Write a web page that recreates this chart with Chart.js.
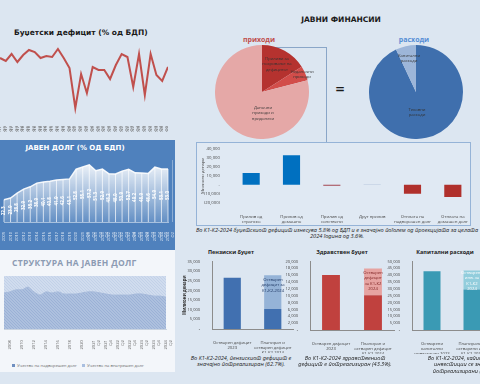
<!DOCTYPE html>
<html lang="mk">
<head>
<meta charset="utf-8">
<title>Јавни финансии</title>
<script src="https://cdn.jsdelivr.net/npm/chart.js@4.4.1/dist/chart.umd.min.js"></script>
<style>
  html, body { margin: 0; padding: 0; }
  body { width: 480px; height: 384px; overflow: hidden; position: relative; background: #dce6f1; font-family: "Open Sans", sans-serif; color: #222; }
  canvas, .txt, .box { position: absolute; }
  .txt { white-space: nowrap; line-height: 1.2; }
  .c { transform: translateX(-50%); text-align: center; }
  .cap { font-style: italic; font-size: 5.6px; color: #222; line-height: 1.25; }
  .lbl { font-size: 4.2px; color: #333; line-height: 1.25; }
  .sq { display: inline-block; width: 3px; height: 3px; margin-right: 2px; }
</style>
</head>
<body>

<!-- Буџетски дефицит -->
<div class="txt" style="left:14px;top:28px;font:bold 7.5px 'DejaVu Sans';color:#1a1a1a">Буџетски дефицит (% од БДП)</div>
<canvas id="deficitChart" width="168" height="88" style="left:0;top:44px"></canvas>

<!-- Јавен долг -->
<div class="box" style="left:0;top:140px;width:175px;height:110px;background:#4f81bd"></div>
<div class="box" style="left:0;top:160px;width:172px;height:62px;border-right:1px solid rgba(255,255,255,0.35)"></div>
<div class="txt c" style="left:75px;top:143.5px;font:bold 7px 'DejaVu Sans';color:#fff">ЈАВЕН ДОЛГ (% ОД БДП)</div>
<canvas id="debtChart" width="174" height="88" style="left:0;top:160px"></canvas>

<!-- Структура на јавен долг -->
<div class="box" style="left:0;top:250px;width:175px;height:122px;background:#f3f6fa"></div>
<div class="txt" style="left:12px;top:256.5px;font:bold 8.5px 'Open Sans';letter-spacing:0.3px;color:#8c9bb3">СТРУКТУРА НА ЈАВЕН ДОЛГ</div>
<canvas id="structChart" width="174" height="82" style="left:0;top:276px"></canvas>
<div class="txt lbl" style="left:12px;top:363px;color:#666"><span class="sq" style="background:#6f8fc0"></span>Учество на надворешен долг</div>
<div class="txt lbl" style="left:82px;top:363px;color:#666"><span class="sq" style="background:#a9bfe0"></span>Учество на внатрешен долг</div>

<!-- Јавни финансии -->
<div class="txt c" style="left:341px;top:14.5px;font:bold 7.5px 'DejaVu Sans';color:#1a1a1a">ЈАВНИ ФИНАНСИИ</div>
<div class="txt c" style="left:259px;top:34.5px;font:bold 7px 'Open Sans';color:#c0504d">приходи</div>
<div class="txt c" style="left:414px;top:34.5px;font:bold 7px 'Open Sans';color:#558ed5">расходи</div>
<div class="box" style="left:262px;top:47px;width:64px;height:95px;border-top:1px solid #8aa6c8;border-right:1px solid #8aa6c8"></div>
<canvas id="revenuePie" width="94" height="94" style="left:215px;top:45px"></canvas>
<canvas id="expensePie" width="94" height="94" style="left:369px;top:45px"></canvas>
<div class="txt c" style="left:340px;top:82px;font:bold 12px 'DejaVu Sans';color:#1a1a1a">=</div>
<div class="txt c lbl" style="left:277px;top:56px">Приливи за<br>покривање на<br>дефицитот</div>
<div class="txt c lbl" style="left:302px;top:69px">Неданочни<br>приходи</div>
<div class="txt c lbl" style="left:263px;top:105px">Даночни<br>приходи и<br>придонеси</div>
<div class="txt c lbl" style="left:409px;top:53px">Капитални<br>расходи</div>
<div class="txt c lbl" style="left:417px;top:107px">Тековни<br>расходи</div>

<!-- Финансирање -->
<div class="box" style="left:196px;top:142px;width:275px;height:84px;border:1px solid #95b3d7;box-sizing:border-box;background:#e0e9f3"></div>
<canvas id="financingChart" width="274" height="82" style="left:200px;top:143px"></canvas>
<div class="txt c cap" style="left:337px;top:226.5px;text-align:center">Во К1-К2-2024 буџетскиот дефицит изнесува 5.8% од БДП и е значајно поголем од проекцијата за целата<br>2024 година од 3.6%.</div>

<!-- Буџети -->
<div class="txt c" style="left:231px;top:247.5px;font:bold 5.5px 'Open Sans'">Пензиски буџет</div>
<div class="txt c" style="left:342px;top:247.5px;font:bold 5.5px 'Open Sans'">Здравствен буџет</div>
<div class="txt c" style="left:445px;top:247.5px;font:bold 5.5px 'Open Sans'">Капитални расходи</div>
<canvas id="pensionChart" width="112" height="98" style="left:182px;top:255px"></canvas>
<canvas id="healthChart" width="115" height="99" style="left:280px;top:255px"></canvas>
<canvas id="capitalChart" width="111" height="99" style="left:382px;top:255px"></canvas>
<div class="txt c lbl" style="left:273px;top:277px;color:#1f3864">Остварен<br>дефицит за<br>К1-К2-2024</div>
<div class="txt c lbl" style="left:373px;top:270px;color:#7b1f1f">Остварен<br>дефицит<br>за К1-К2<br>2024</div>
<div class="txt c lbl" style="left:472px;top:270px;color:#fff">Остварени<br>инв. за<br>К1-К2<br>2024</div>
<div class="txt c cap" style="left:241px;top:354.5px;text-align:center">Во К1-К2-2024, пензискиот дефицит е<br>значајно потреализиран (62.7%).</div>
<div class="txt c cap" style="left:345px;top:354.5px;text-align:center">Во К1-К2-2024 здравствениот<br>дефицит е потреализиран (43.3%).</div>
<div class="txt c cap" style="left:466px;top:354.5px;text-align:center">Во К1-К2-2024, капиталните<br>инвестиции се значајно<br>потреализирани (28.6%).</div>

<script>
// ---- податоци ----
const deficitLabels = [
  ["2017","Q1"],["2017","Q2"],["2017","Q3"],["2017","Q4"],
  ["2018","Q1"],["2018","Q2"],["2018","Q3"],["2018","Q4"],
  ["2019","Q1"],["2019","Q2"],["2019","Q3"],["2019","Q4"],
  ["2020","Q1"],["2020","Q2"],["2020","Q3"],["2020","Q4"],
  ["2021","Q1"],["2021","Q2"],["2021","Q3"],["2021","Q4"],
  ["2022","Q1"],["2022","Q2"],["2022","Q3"],["2022","Q4"],
  ["2023","Q1"],["2023","Q2"],["2023","Q3"],["2023","Q4"],
  ["2024","Q1"],["2024","Q2"]
];
const deficitValues = [-1.8, -2.1, -1.4, -2.2, -1.5, -1.0, -1.2, -1.8, -1.6, -1.7,
  -0.9, -1.8, -2.8, -6.8, -3.4, -5.3, -2.7, -3.0, -3.0, -3.9,
  -2.5, -1.4, -1.7, -4.7, -1.4, -5.5, -1.4, -3.5, -4.1, -2.7];

const debtLabels = [
  "2009","2010","2011","2012","2013","2014","2015","2016","2017","2018","2019","2020",
  ["2021","Q1"],["2021","Q2"],["2021","Q3"],["2021","Q4"],
  ["2022","Q1"],["2022","Q2"],["2022","Q3"],["2022","Q4"],
  ["2023","Q1"],["2023","Q2"],["2023","Q3"],["2023","Q4"],
  ["2024","Q1"],["2024","Q2"]
];
const debtValues = [22.3, 23.9, 28.8, 32.9, 35.2, 38.9, 40.1, 40.8, 41.9, 42.6, 43.1, 52.8,
  55.1, 57.2, 51.3, 52.9, 48.2, 48.0, 50.9, 52.7, 49.2, 48.9, 48.6, 54.9, 53.1, 53.0];

const structLabels = [
  "2007","2008","2009","2010","2011","2012","2013","2014","2015","2016","2017","2018","2019","2020",
  ["2021","Q1"],["2021","Q2"],["2021","Q3"],["2021","Q4"],
  ["2022","Q1"],["2022","Q2"],["2022","Q3"],["2022","Q4"],
  ["2023","Q1"],["2023","Q2"],["2023","Q3"],["2023","Q4"],
  ["2024","Q1"],["2024","Q2"]
];
const externalShare = [68, 70, 74, 74, 79, 70, 64, 70, 68, 70, 66, 66, 66, 68,
  70, 70, 68, 66, 64, 64, 64, 64, 66, 66, 64, 62, 62, 60];
const domesticShare = [32, 30, 26, 26, 21, 30, 36, 30, 32, 30, 34, 34, 34, 32,
  30, 30, 32, 34, 36, 36, 36, 36, 34, 34, 36, 38, 38, 40];

const revenueLabels = ["Приливи за покривање на дефицитот", "Неданочни приходи", "Даночни приходи и придонеси"];
const revenueShares = [16, 5, 79];
const expenseLabels = ["Тековни расходи", "Капитални расходи"];
const expenseShares = [93, 7];

const financingLabels = [
  ["Прилив од","странско","задолжување"],
  ["Прилив од","домашно","задолжување"],
  ["Прилив од","сопствени","депозити"],
  "Друг прилив",
  ["Отплата на","надворешен долг"],
  ["Отплата на","домашен долг"]
];
const financingValues = [13100, 32700, -1100, 300, -9900, -13500];

const deficitBudgetLabels = [["Остварен дефицит","2023"], ["Планиран и","остварен дефицит","К1-К2-2024"]];
const pensionRealized = [26500, 10300];
const pensionRemaining = [null, 17500];
const healthRealized = [16000, 10100];
const healthRemaining = [null, 7800];
const capitalLabels = [["Остварени","капитални","инвестиции 2023"], ["Планирани и","остварени инв.","К1-К2-2024"]];
const capitalRealized = [42800, 29500];
const capitalRemaining = [null, 13800];

// ---- општо ----
Chart.defaults.animation = false;
Chart.defaults.responsive = false;
Chart.defaults.devicePixelRatio = 1;
Chart.defaults.font.family = "'Open Sans', sans-serif";
Chart.defaults.plugins.legend.display = false;
Chart.defaults.plugins.tooltip.enabled = false;

function noPad(s) { s.paddingLeft = 0; s.paddingRight = 0; }

function dotted(base, dot) {
  const c = document.createElement('canvas');
  c.width = 3; c.height = 3;
  const g = c.getContext('2d');
  g.fillStyle = base; g.fillRect(0, 0, 3, 3);
  g.fillStyle = dot; g.fillRect(0, 0, 1, 1); g.fillRect(1, 1, 1, 1); g.fillRect(2, 2, 1, 1);
  return g.createPattern(c, 'repeat');
}

// ---- буџетски дефицит ----
new Chart(document.getElementById('deficitChart'), {
  type: 'line',
  data: {
    labels: deficitLabels,
    datasets: [{ data: deficitValues, borderColor: '#c0504d', borderWidth: 2, pointRadius: 0, tension: 0 }]
  },
  options: {
    scales: {
      x: {
        grid: { display: false }, border: { display: false },
        ticks: { font: { size: 4 }, color: '#666', minRotation: 90, maxRotation: 90, autoSkip: false, padding: 2 },
        afterFit: s => { s.height = 16; noPad(s); }
      },
      y: { display: false, min: -7.6, max: -0.4 }
    }
  }
});

// ---- јавен долг ----
const debtDrops = {
  id: 'debtDrops',
  afterDatasetsDraw(chart) {
    const { ctx, scales: { y } } = chart;
    const base = y.getPixelForValue(0);
    ctx.save();
    chart.getDatasetMeta(0).data.forEach((pt, i) => {
      ctx.strokeStyle = 'rgba(255,255,255,0.7)';
      ctx.lineWidth = 1;
      ctx.beginPath(); ctx.moveTo(pt.x, pt.y); ctx.lineTo(pt.x, base); ctx.stroke();
      ctx.save();
      ctx.translate(pt.x, y.getPixelForValue(debtValues[i] / 2));
      ctx.rotate(-Math.PI / 2);
      ctx.font = "bold 4.5px 'Open Sans'";
      ctx.textAlign = 'center'; ctx.textBaseline = 'middle';
      ctx.fillStyle = '#ffffff';
      ctx.fillText(debtValues[i].toFixed(1), 0, 0);
      ctx.restore();
    });
    ctx.restore();
  }
};
new Chart(document.getElementById('debtChart'), {
  type: 'line',
  data: {
    labels: debtLabels,
    datasets: [{
      data: debtValues, fill: 'origin', pointRadius: 0, tension: 0,
      borderColor: 'rgba(255,255,255,0.9)', borderWidth: 1.5,
      backgroundColor: ctx => {
        const a = ctx.chart.chartArea;
        if (!a) return 'rgba(255,255,255,0.5)';
        const g = ctx.chart.ctx.createLinearGradient(0, a.top, 0, a.bottom);
        g.addColorStop(0, 'rgba(255,255,255,0.95)');
        g.addColorStop(1, 'rgba(255,255,255,0.12)');
        return g;
      }
    }]
  },
  options: {
    layout: { padding: { left: 4, right: 6 } },
    scales: {
      x: {
        grid: { display: false }, border: { color: 'rgba(255,255,255,0.5)' },
        ticks: { font: { size: 4 }, color: 'rgba(255,255,255,0.85)', minRotation: 90, maxRotation: 90, autoSkip: false, padding: 2 },
        afterFit: s => { s.height = 26; noPad(s); }
      },
      y: { display: false, min: 0, max: 62 }
    }
  },
  plugins: [debtDrops]
});

// ---- структура на јавен долг ----
new Chart(document.getElementById('structChart'), {
  type: 'line',
  data: {
    labels: structLabels,
    datasets: [
      { label: 'Учество на надворешен долг', data: externalShare, fill: 'origin', pointRadius: 0, tension: 0.3,
        borderColor: '#a5b9da', borderWidth: 1, backgroundColor: dotted('#adc0de', '#9bb1d6') },
      { label: 'Учество на внатрешен долг', data: domesticShare, fill: '-1', pointRadius: 0, tension: 0.3,
        borderColor: '#cdd9ec', borderWidth: 0.5, backgroundColor: dotted('#d0dcee', '#c2d1e8') }
    ]
  },
  options: {
    layout: { padding: { left: 4, right: 8 } },
    scales: {
      x: {
        grid: { display: false }, border: { color: '#c9d3e0' },
        ticks: {
          font: { size: 4.2 }, color: '#666', minRotation: 90, maxRotation: 90, autoSkip: false, padding: 3,
          callback: function (v, i) { return i % 2 === 1 ? this.getLabelForValue(v) : ''; }
        },
        afterFit: s => { s.height = 29; noPad(s); }
      },
      y: { display: false, stacked: true, min: 0, max: 100 }
    }
  }
});

// ---- пити ----
new Chart(document.getElementById('revenuePie'), {
  type: 'pie',
  data: { labels: revenueLabels, datasets: [{ data: revenueShares, borderWidth: 0, backgroundColor: ['#b5322f', '#d24d4a', '#e5a8a7'] }] }
});
new Chart(document.getElementById('expensePie'), {
  type: 'pie',
  data: { labels: expenseLabels, datasets: [{ data: expenseShares, borderWidth: 0, backgroundColor: ['#3f6fad', '#9db6d9'] }] }
});

// ---- финансирање на дефицитот ----
const thousands = v => v === 0 ? '-' : v < 0 ? '(' + Math.abs(v).toLocaleString('en-US') + ')' : v.toLocaleString('en-US');
new Chart(document.getElementById('financingChart'), {
  type: 'bar',
  data: {
    labels: financingLabels,
    datasets: [{
      data: financingValues,
      backgroundColor: ['#0070c0', '#0070c0', '#a3454f', '#8fa8c8', '#b0302c', '#b0302c'],
      barPercentage: 0.85, categoryPercentage: 0.5
    }]
  },
  options: {
    layout: { padding: { top: 3, right: 1 } },
    scales: {
      x: {
        grid: { display: false }, border: { display: false },
        ticks: { font: { size: 4.3 }, color: '#444', maxRotation: 0, autoSkip: false, padding: 3 },
        afterFit: s => { s.height = 22; noPad(s); }
      },
      y: {
        min: -20000, max: 40000,
        grid: { display: false }, border: { display: false },
        ticks: { stepSize: 10000, autoSkip: false, font: { size: 4.3 }, color: '#444', padding: 3, callback: thousands },
        title: { display: true, text: 'Милиони денари', font: { size: 4.3 }, color: '#444', padding: 0 },
        afterFit: s => { s.width = 31; }
      }
    }
  }
});

// ---- буџети ----
function budgetChart(id, labels, realized, remaining, colors, yMax, yStep, showTitle) {
  return new Chart(document.getElementById(id), {
    type: 'bar',
    data: {
      labels: labels,
      datasets: [
        { data: realized, backgroundColor: colors[0], barPercentage: 0.85, categoryPercentage: 0.5 },
        { data: remaining, backgroundColor: colors[1], barPercentage: 0.85, categoryPercentage: 0.5 }
      ]
    },
    options: {
      layout: { padding: { top: 5, right: 1 } },
      scales: {
        x: {
          stacked: true, grid: { display: false }, border: { color: '#8c8c8c' },
          ticks: { font: { size: 4.2 }, color: '#444', maxRotation: 0, autoSkip: false, padding: 3 },
          afterFit: s => { s.height = 24; noPad(s); }
        },
        y: {
          stacked: true, min: 0, max: yMax,
          grid: { display: false }, border: { color: '#8c8c8c' },
          ticks: { stepSize: yStep, autoSkip: false, font: { size: 4 }, color: '#444', padding: 4, callback: thousands },
          title: { display: showTitle, text: 'Милиони денари', font: { size: 4.3, weight: 'bold' }, color: '#333', padding: 0 },
          afterFit: s => { s.width = 30; }
        }
      }
    }
  });
}
budgetChart('pensionChart', deficitBudgetLabels, pensionRealized, pensionRemaining, ['#4170b0', '#95b3d7'], 35000, 5000, true);
budgetChart('healthChart', deficitBudgetLabels, healthRealized, healthRemaining, ['#c0413e', '#e6a3a1'], 20000, 2000, false);
budgetChart('capitalChart', capitalLabels, capitalRealized, capitalRemaining, ['#3a9ab4', '#92cddc'], 50000, 5000, false);
</script>
</body>
</html>
